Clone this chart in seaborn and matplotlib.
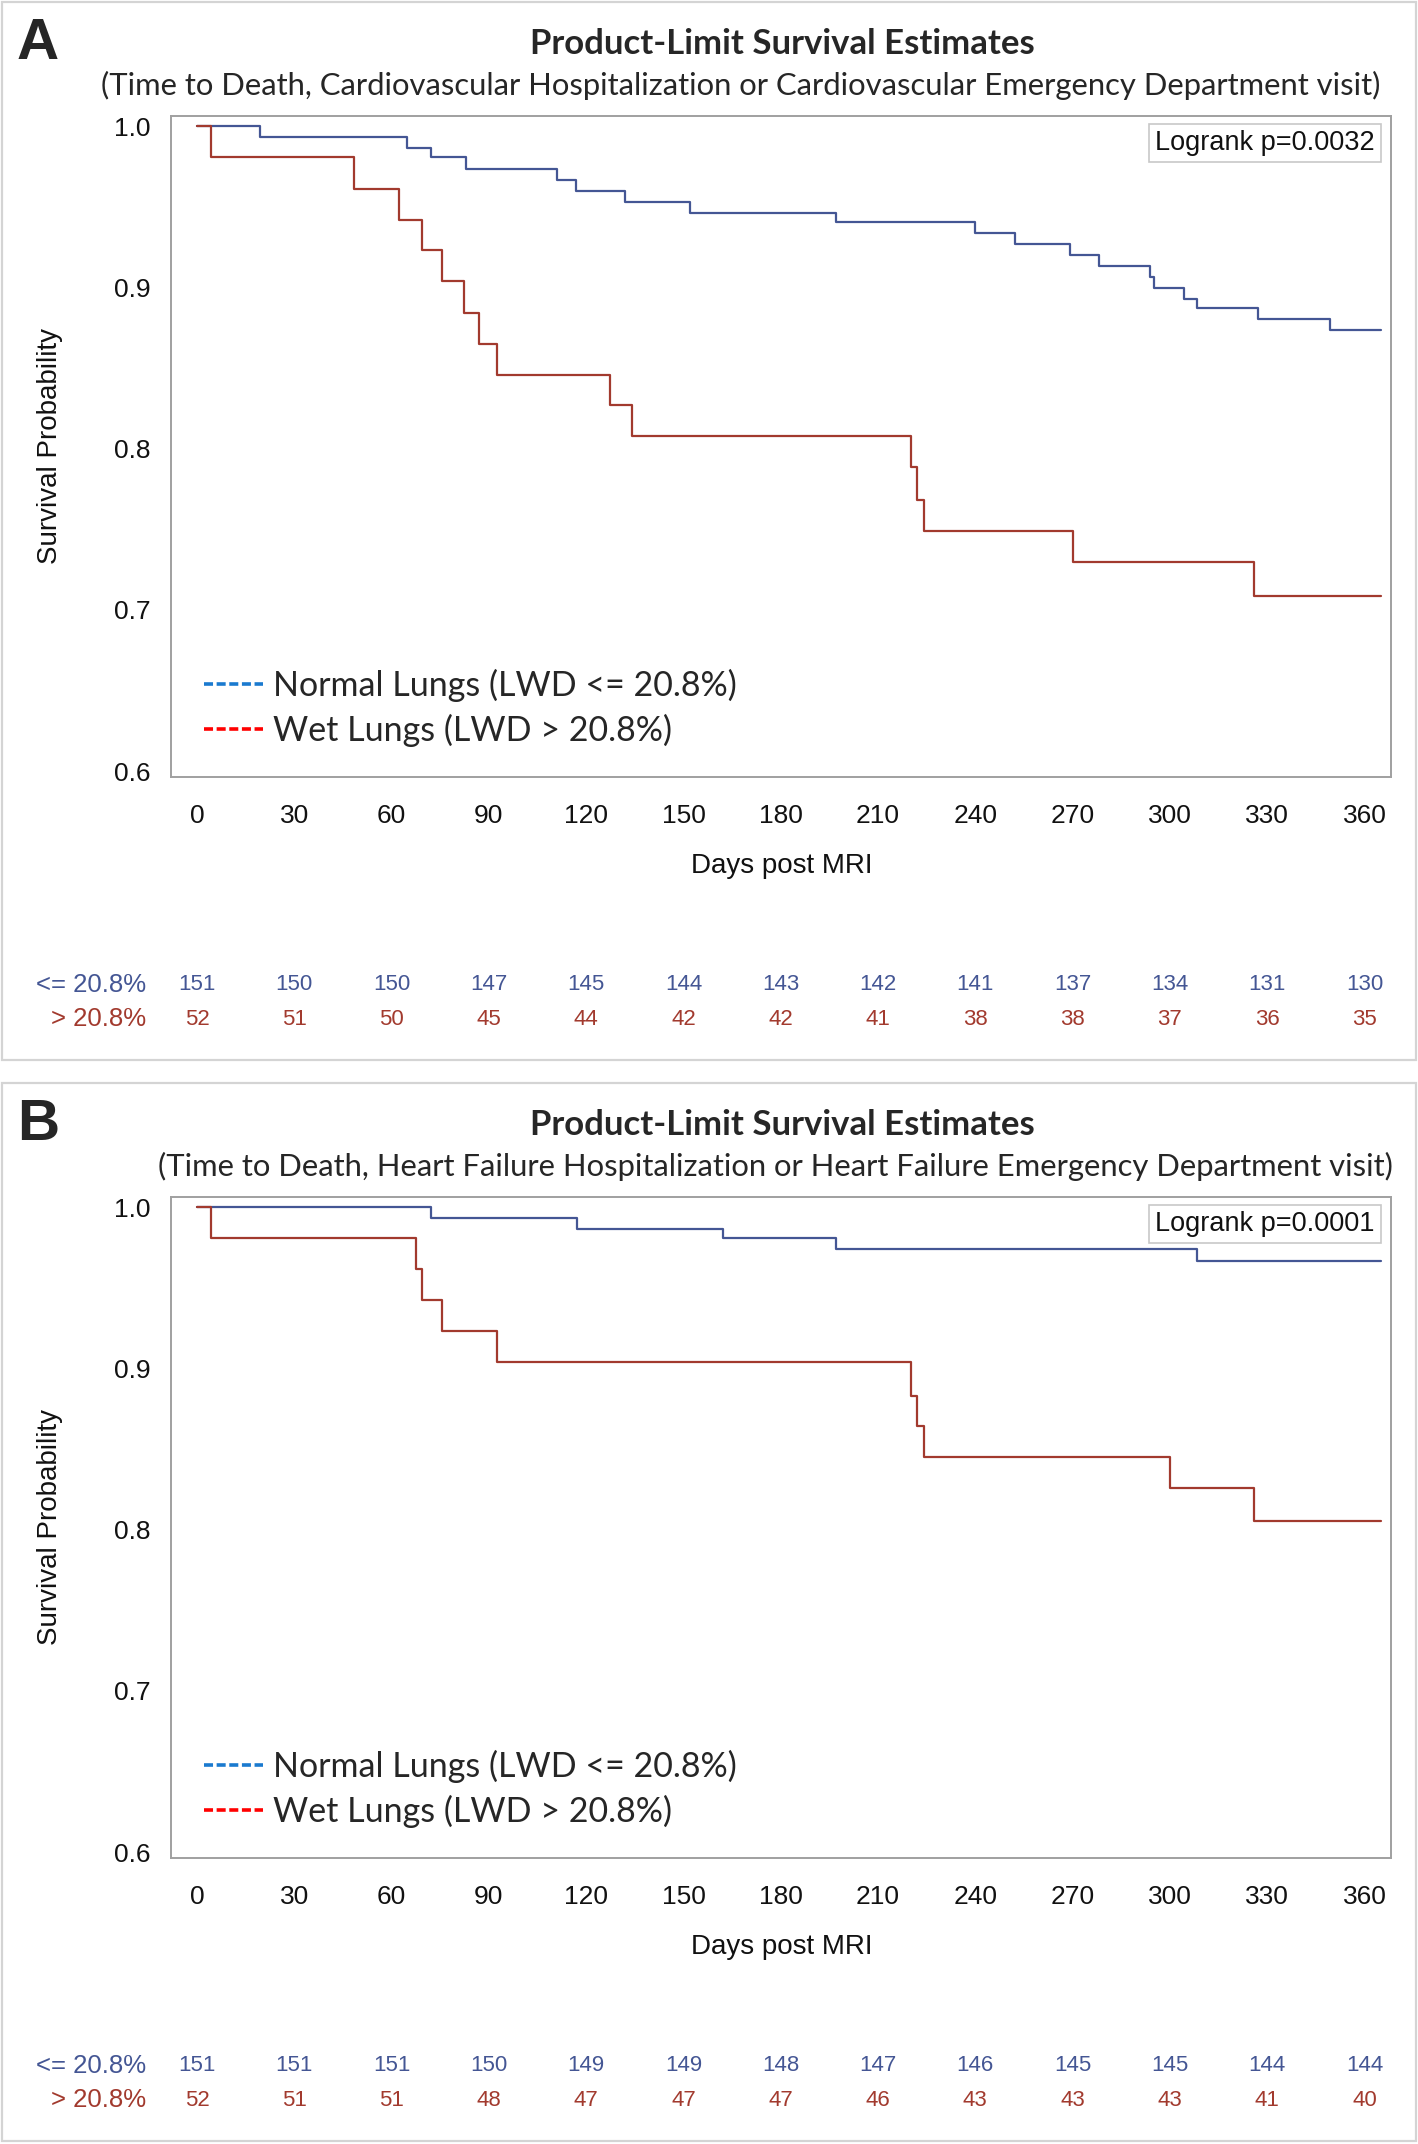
import numpy as np
import pandas as pd
import matplotlib
matplotlib.use("Agg")
import matplotlib.pyplot as plt
import seaborn as sns
from matplotlib.lines import Line2D
from matplotlib.patches import Rectangle

# ---- data ----
days_ticks = [0, 30, 60, 90, 120, 150, 180, 210, 240, 270, 300, 330, 360]

# Panel A: death / CV hospitalization / CV ED visit
a_norm_t = [0, 19.5, 64.6, 72, 83, 110.9, 117, 132, 151.9, 196.9, 240, 252.2,
            269.3, 278.2, 294, 295, 304.2, 308.3, 327.3, 349.3, 365]
a_norm_s = [1.0, 0.9933, 0.9865, 0.9810, 0.9738, 0.9670, 0.9600, 0.9530, 0.9460,
            0.9406, 0.9339, 0.9270, 0.9200, 0.9135, 0.9064, 0.8996, 0.8927,
            0.8871, 0.8803, 0.8734, 0.8734]
a_wet_t = [0, 4.3, 48.3, 62.4, 69.3, 75.5, 82.4, 87.1, 92.4, 127.4, 134.1,
           220.2, 222.1, 224.3, 270, 326, 365]
a_wet_s = [1.0, 0.9808, 0.9614, 0.9420, 0.9230, 0.9040, 0.8845, 0.8650, 0.8460,
           0.8270, 0.8080, 0.7885, 0.7680, 0.7488, 0.7298, 0.7089, 0.7089]
a_risk_norm = [151, 150, 150, 147, 145, 144, 143, 142, 141, 137, 134, 131, 130]
a_risk_wet = [52, 51, 50, 45, 44, 42, 42, 41, 38, 38, 37, 36, 35]

# Panel B: death / HF hospitalization / HF ED visit
b_norm_t = [0, 72, 117.2, 162.2, 196.9, 308.3, 365]
b_norm_s = [1.0, 0.9932, 0.9864, 0.9808, 0.9740, 0.9670, 0.9670]
b_wet_t = [0, 4.3, 67.4, 69.3, 75.5, 92.4, 220.2, 222.1, 224.3, 300, 326, 365]
b_wet_s = [1.0, 0.9808, 0.9616, 0.9426, 0.9234, 0.9042, 0.8830, 0.8644, 0.8454,
           0.8258, 0.8054, 0.8054]
b_risk_norm = [151, 151, 151, 150, 149, 149, 148, 147, 146, 145, 145, 144, 144]
b_risk_wet = [52, 51, 51, 48, 47, 47, 47, 46, 43, 43, 43, 41, 40]

groups = ["<= 20.8%", "> 20.8%"]
legend_labels = ["Normal Lungs (LWD <= 20.8%)", "Wet Lungs (LWD > 20.8%)"]
subtitles = ["(Time to Death, Cardiovascular Hospitalization or Cardiovascular Emergency Department visit)",
             "(Time to Death, Heart Failure Hospitalization or Heart Failure Emergency Department visit)"]
pvalues = ["Logrank p=0.0032", "Logrank p=0.0001"]

# ---- style ----
sns.set_style("white")
plt.rcParams['font.family'] = ['Liberation Sans', 'DejaVu Sans']
CURVE = ["#445694", "#A23A2E"]
LEG = ["#1A7ACF", "#FF0000"]
GRAY = "#A0A0A0"

W, H = 1418, 2144
fig = plt.figure(figsize=(W / 100, H / 100), dpi=100)


def fx(x):
    return x / W


def fy(y):
    return 1 - y / H


def panel(off, letter, subtitle, sub_cx, pval, nt, ns, wt, ws, rn, rw):
    # light frame around the panel
    fig.patches.append(Rectangle((fx(2), fy(off + 1060)), fx(1414), (1060 - 2) / H,
                                 transform=fig.transFigure, fill=False,
                                 edgecolor="#D4D4D4", lw=1.6))
    ax = fig.add_axes([fx(171.4), fy(off + 776.7), fx(1391.4 - 171.4), 661 / H])
    df = pd.DataFrame({
        "day": nt + wt,
        "surv": ns + ws,
        "group": [groups[0]] * len(nt) + [groups[1]] * len(wt),
    })
    sns.lineplot(data=df, x="day", y="surv", hue="group", palette=CURVE,
                 drawstyle="steps-post", estimator=None, sort=False,
                 linewidth=1.6, legend=False, ax=ax)
    ax.set_xlim(-7.9, 368.3)
    ax.set_ylim(0.5965, 1.0066)
    ax.set_xticks(days_ticks)
    ax.set_yticks([0.6, 0.7, 0.8, 0.9, 1.0])
    ax.set_yticklabels(["0.6", "0.7", "0.8", "0.9", "1.0"])
    for s in ax.spines.values():
        s.set_color(GRAY)
        s.set_linewidth(1.4)
    ax.tick_params(axis="both", direction="out", color=GRAY, width=1.2,
                   labelsize=19, labelcolor="#111111")
    ax.tick_params(axis="x", length=10, pad=10)
    ax.tick_params(axis="y", length=9, pad=6)
    ax.set_xlabel("Days post MRI", fontsize=20, labelpad=18, color="#111111")
    ax.set_ylabel("Survival Probability", fontsize=20, labelpad=37, color="#111111")

    ax.text(0.9865, 0.978, pval, transform=ax.transAxes, ha="right", va="top",
            fontsize=19.5, color="#111111",
            bbox=dict(boxstyle="square,pad=0.22", fc="white", ec="#C8C8C8", lw=1.2))

    handles = [Line2D([], [], color=c, lw=2.6, linestyle=(0, (2.5, 1.0))) for c in LEG]
    ax.legend(handles, legend_labels, loc="lower left", bbox_to_anchor=(0.0, -0.004),
              frameon=False, handlelength=1.75, handletextpad=0.3,
              labelspacing=0.34, borderaxespad=0.55,
              prop={"family": "Lato", "size": 24.5})

    # number at risk
    tr = ax.get_xaxis_transform()
    for row, (vals, col) in enumerate(zip([rn, rw], CURVE)):
        yy = -0.3144 - row * 0.0522
        ax.text(-15.8, yy, groups[row], transform=tr, ha="right", va="center",
                fontsize=18.5, color=col, clip_on=False)
        for d, v in zip(days_ticks, vals):
            ax.text(d, yy, str(v), transform=tr, ha="center", va="center",
                    fontsize=16, color=col, clip_on=False)

    fig.text(fx(38), fy(off + 44), letter, fontsize=42, fontweight="bold",
             ha="center", va="center", family="Liberation Sans")
    fig.text(fx(782), fy(off + 44), "Product-Limit Survival Estimates", fontsize=25,
             fontweight="bold", ha="center", va="center", family="Lato")
    fig.text(fx(sub_cx), fy(off + 85), subtitle, fontsize=22.3, ha="center",
             va="center", family="Lato")
    return ax


panel(0, "A", subtitles[0], 741, pvalues[0], a_norm_t, a_norm_s, a_wet_t, a_wet_s,
      a_risk_norm, a_risk_wet)
panel(1081, "B", subtitles[1], 775, pvalues[1], b_norm_t, b_norm_s, b_wet_t, b_wet_s,
      b_risk_norm, b_risk_wet)

fig.savefig("out.png", dpi=100, facecolor="white")
